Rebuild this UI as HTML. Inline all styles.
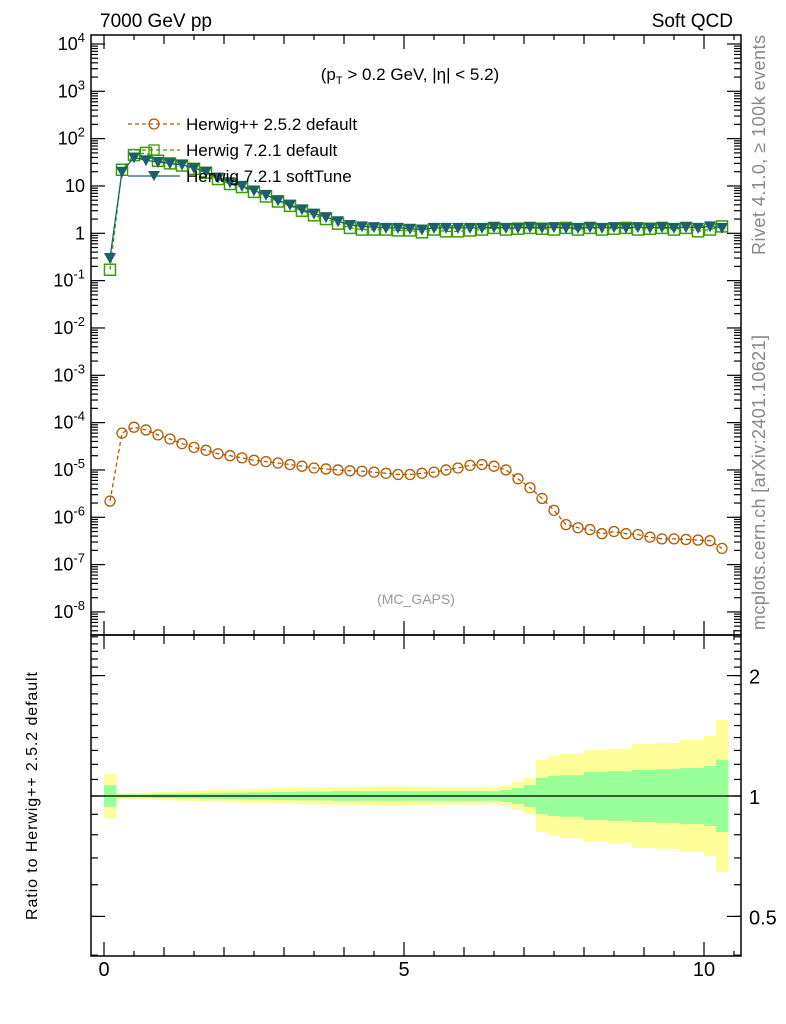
<!DOCTYPE html>
<html><head><meta charset="utf-8"><style>
body{margin:0;background:#fff;}
svg{display:block;font-family:"Liberation Sans",sans-serif;}
</style></head><body>
<svg id="c" width="786" height="1024" xmlns="http://www.w3.org/2000/svg">
<rect width="786" height="1024" fill="#fff"/>
<g id="bands"></g>
<g id="marks"></g>
<g id="axes"></g>
<text x="100" y="27" font-size="19">7000 GeV pp</text>
<text x="733" y="27" font-size="19" text-anchor="end">Soft QCD</text>
<text x="410" y="80" font-size="17" text-anchor="middle">(p<tspan dy="4" font-size="11">T</tspan><tspan dy="-4"> &gt; 0.2 GeV, |η| &lt; 5.2)</tspan></text>
<text x="416" y="604" font-size="14" fill="#999" text-anchor="middle">(MC_GAPS)</text>
<text transform="translate(765,255) rotate(-90)" font-size="18" fill="#888" textLength="220">Rivet 4.1.0, ≥ 100k events</text>
<text transform="translate(765,630) rotate(-90)" font-size="18" fill="#888" textLength="295">mcplots.cern.ch [arXiv:2401.10621]</text>
<text transform="translate(37,796) rotate(-90)" font-size="16" text-anchor="middle" textLength="248">Ratio to Herwig++ 2.5.2 default</text>
<g id="legend">
<g><line x1="128" y1="124" x2="180" y2="124" stroke="#b35900" stroke-dasharray="4,3" stroke-width="1.3"/><circle cx="154" cy="124" r="5" fill="none" stroke="#b35900" stroke-width="1.3"/><text x="186" y="130" font-size="17">Herwig++ 2.5.2 default</text></g>
<g><line x1="128" y1="150" x2="180" y2="150" stroke="#3b9e00" stroke-dasharray="4,3" stroke-width="1.3"/><rect x="149" y="145" width="10" height="10" fill="none" stroke="#3b9e00" stroke-width="1.3"/><text x="186" y="156" font-size="17">Herwig 7.2.1 default</text></g>
<g><line x1="128" y1="176" x2="180" y2="176" stroke="#1e5f6e" stroke-width="1.3"/><polygon points="148,171 160,171 154,181" fill="#1e5f6e"/><text x="186" y="182" font-size="17">Herwig 7.2.1 softTune</text></g>
</g>
</svg>
<script>
const xCenters=[0.1,0.3,0.5,0.7,0.9,1.1,1.3,1.5,1.7,1.9,2.1,2.3,2.5,2.7,2.9,3.1,3.3,3.5,3.7,3.9,4.1,4.3,4.5,4.7,4.9,5.1,5.3,5.5,5.7,5.9,6.1,6.3,6.5,6.7,6.9,7.1,7.3,7.5,7.7,7.9,8.1,8.3,8.5,8.7,8.9,9.1,9.3,9.5,9.7,9.9,10.1,10.3];
const herwigPP=[2.2e-6,6e-5,8e-5,7e-5,5.5e-5,4.5e-5,3.6e-5,3e-5,2.6e-5,2.2e-5,2e-5,1.8e-5,1.6e-5,1.5e-5,1.4e-5,1.3e-5,1.2e-5,1.1e-5,1.05e-5,1e-5,9.6e-6,9.4e-6,9e-6,8.5e-6,8e-6,8e-6,8.5e-6,9e-6,1e-5,1.1e-5,1.25e-5,1.3e-5,1.2e-5,1e-5,6.5e-6,4.2e-6,2.5e-6,1.4e-6,7e-7,6e-7,5.5e-7,4.5e-7,5e-7,4.5e-7,4.3e-7,3.8e-7,3.5e-7,3.5e-7,3.4e-7,3.3e-7,3.2e-7,2.2e-7];
const herwig7Default=[0.17,22,45,50,34,30,27,23,19,14,11,9.5,7.5,6,4.7,3.8,3,2.4,2,1.6,1.3,1.2,1.2,1.2,1.15,1.15,1.05,1.2,1.1,1.1,1.15,1.2,1.3,1.2,1.25,1.3,1.25,1.2,1.3,1.2,1.3,1.2,1.25,1.3,1.2,1.25,1.3,1.2,1.3,1.1,1.2,1.4];
const herwig7Soft=[0.3,20,40,35,32,30,28,24,20,15,12,10,8,6.5,5,4,3.2,2.6,2.2,1.8,1.5,1.4,1.35,1.3,1.3,1.25,1.2,1.3,1.3,1.3,1.3,1.3,1.35,1.3,1.3,1.35,1.3,1.35,1.3,1.3,1.35,1.3,1.35,1.3,1.35,1.3,1.35,1.3,1.35,1.3,1.4,1.3];
const bandYellow=[0.055,0.008,0.008,0.009,0.01,0.011,0.012,0.013,0.014,0.015,0.016,0.017,0.018,0.019,0.02,0.02,0.021,0.021,0.022,0.022,0.022,0.023,0.023,0.024,0.024,0.023,0.023,0.022,0.022,0.021,0.021,0.021,0.02,0.025,0.035,0.045,0.09,0.1,0.105,0.105,0.115,0.115,0.118,0.118,0.13,0.13,0.132,0.132,0.14,0.14,0.15,0.19];
const bandGreen=[0.027,0.004,0.004,0.004,0.005,0.005,0.006,0.006,0.007,0.007,0.008,0.008,0.009,0.009,0.01,0.01,0.011,0.011,0.011,0.012,0.012,0.012,0.012,0.012,0.012,0.012,0.012,0.012,0.012,0.012,0.012,0.012,0.012,0.015,0.02,0.027,0.045,0.05,0.052,0.052,0.06,0.06,0.062,0.062,0.065,0.065,0.067,0.067,0.07,0.07,0.075,0.09];
const ratioTicks=[0.5,1,2];
const xTickLabels=[0,5,10];
const decades=[-8,-7,-6,-5,-4,-3,-2,-1,0,1,2,3,4];

const NS="http://www.w3.org/2000/svg";
const L=91,R=741,T=35,MB=635,RB=956;
const X=v=>104+60*v;
const Y=v=>233.3-47.33*Math.log10(v);
const YR=r=>796-400*Math.log10(r);
function mk(tag,attrs,parent){const e=document.createElementNS(NS,tag);for(const k in attrs)e.setAttribute(k,attrs[k]);parent.appendChild(e);return e;}
const bands=document.getElementById('bands'),marks=document.getElementById('marks'),axes=document.getElementById('axes');

xCenters.forEach((x,i)=>{
  const x0=X(x-0.1),x1=X(x+0.1);
  const dy=bandYellow[i],dg=bandGreen[i];
  const y=mk('rect',{x:x0,y:YR(Math.pow(10,dy)),width:x1-x0+0.5,height:YR(Math.pow(10,-dy))-YR(Math.pow(10,dy)),fill:'#ffff99'},bands);
  
  
  const g=mk('rect',{x:x0,y:YR(Math.pow(10,dg)),width:x1-x0+0.5,height:YR(Math.pow(10,-dg))-YR(Math.pow(10,dg)),fill:'#99ff99'},bands);
  
  
});
const one=mk('line',{x1:L,x2:R,y1:YR(1),y2:YR(1),stroke:'#000','stroke-width':1.3},bands);



function series(vals,color,dash,kind,name){
  const pts=xCenters.map((x,i)=>X(x)+','+Y(vals[i])).join(' ');
  const pl=mk('polyline',{points:pts,fill:'none',stroke:color,'stroke-width':1.3},marks);
  if(dash)pl.setAttribute('stroke-dasharray',dash);
  
  
  xCenters.forEach((x,i)=>{
    const cx=X(x),cy=Y(vals[i]);let m;
    if(kind==='c')m=mk('circle',{cx:cx,cy:cy,r:5,fill:'none',stroke:color,'stroke-width':1.3},marks);
    else if(kind==='s')m=mk('rect',{x:cx-5.5,y:cy-5.5,width:11,height:11,fill:'none',stroke:color,'stroke-width':1.5},marks);
    else m=mk('polygon',{points:`${cx-6},${cy-5} ${cx+6},${cy-5} ${cx},${cy+6}`,fill:color},marks);
    
    
  });
}
series(herwigPP,'#b35900','4,3','c','herwigpp');
series(herwig7Default,'#3b9e00','4,3','s','herwig7-default');
series(herwig7Soft,'#1e5f6e',null,'t','herwig7-softtune');

[[T,MB],[MB,RB]].forEach(([a,b])=>{
  const f=mk('rect',{x:L,y:a,width:R-L,height:b-a,fill:'none',stroke:'#000','stroke-width':1.5},axes);
  
  
});
function ln(x1,y1,x2,y2){mk('line',{x1,y1,x2,y2,stroke:'#000','stroke-width':1.2},axes);}
decades.forEach(d=>{
  const y=Y(Math.pow(10,d));
  ln(L,y,L+14,y);ln(R,y,R-14,y);
  for(let k=2;k<10;k++){const ym=Y(k*Math.pow(10,d));if(ym>T&&ym<MB){ln(L,ym,L+7,ym);ln(R,ym,R-7,ym);}}
  const t=document.createElementNS(NS,'text');
  
  
  t.setAttribute('x',L-6);t.setAttribute('y',y+6);t.setAttribute('text-anchor','end');t.setAttribute('font-size','18');
  if(d===0)t.textContent='1';else if(d===1)t.textContent='10';
  else{t.textContent='10';const s=document.createElementNS(NS,'tspan');s.setAttribute('dy','-8');s.setAttribute('font-size','13');s.textContent=String(d);t.appendChild(s);}
  axes.appendChild(t);
});
for(let k=2;k<10;k++){const ym=Y(k*1e-9);if(ym<MB){ln(L,ym,L+7,ym);ln(R,ym,R-7,ym);}}
for(let r=0.4;r<2.55;r+=0.1){const y=YR(r);if(y>MB&&y<RB){ln(L,y,L+7,y);ln(R,y,R-7,y);}}
ratioTicks.forEach(r=>{
  const y=YR(r);ln(L,y,L+14,y);ln(R,y,R-14,y);
  const t=mk('text',{x:R+8,y:y+8,'font-size':20},axes);t.textContent=String(r);
  
  
});
for(let v=0;v<=10.5;v+=0.5){
  const x=X(v);const len=(v%5===0)?14:(v%1===0?9:5);
  ln(x,MB,x,MB-len);ln(x,RB,x,RB-len);ln(x,T,x,T+len);ln(x,MB,x,MB+len);
}
xTickLabels.forEach(v=>{
  const t=mk('text',{x:X(v),y:RB+20,'font-size':20,'text-anchor':'middle'},axes);t.textContent=String(v);
  
  
});
</script>
</body></html>
